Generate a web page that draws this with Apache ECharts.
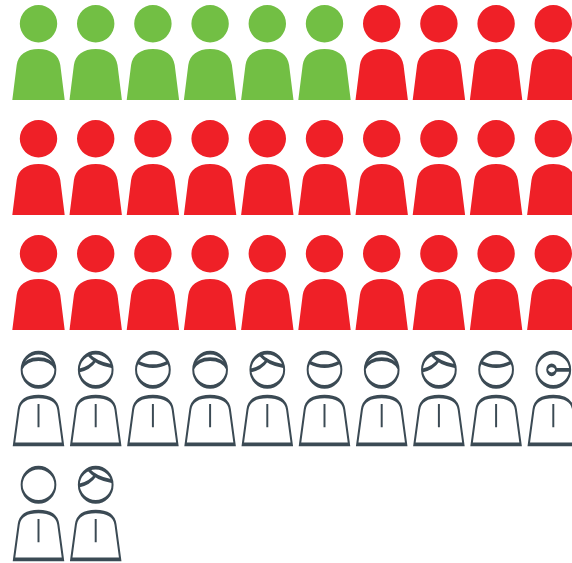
<!DOCTYPE html>
<html>
<head>
<meta charset="utf-8">
<title>people</title>
<script src="https://cdn.jsdelivr.net/npm/echarts@6/dist/echarts.min.js"></script>
<style>
  html, body { margin: 0; padding: 0; background: #fff; overflow: hidden; }
  #chart { width: 572px; height: 563px; }
</style>
</head>
<body>
<div id="chart"></div>
<script>
// one row of people per entry, left to right
const columns = ['1', '2', '3', '4', '5', '6', '7', '8', '9', '10']
const rows = ['1', '2', '3', '4', '5']
const row1 = ['green', 'green', 'green', 'green', 'green', 'green', 'red', 'red', 'red', 'red']
const row2 = ['red', 'red', 'red', 'red', 'red', 'red', 'red', 'red', 'red', 'red']
const row3 = ['red', 'red', 'red', 'red', 'red', 'red', 'red', 'red', 'red', 'red']
const row4 = ['cap', 'swoop', 'fringe', 'cap', 'swoop', 'fringe', 'cap', 'swoop', 'fringe', 'ring']
const row5 = ['plain', 'swoop']
const people = [row1, row2, row3, row4, row5]

const GREEN = '#72bf44'
const RED = '#ef2027'
const SLATE = '#3b4a54'

// filled person
const solidPath = 'path://M26.2 0A18.7 18.7 0 1 1 26.2 37.4A18.7 18.7 0 1 1 26.2 0Z' +
  'M0 95L4.4 60C5.7 50 14 44 26.2 44C38.4 44 46.7 50 48 60L52.4 95Z'

// outlined person, hair is drawn on top of it
const outline = 'M25 0A17.2 17.2 0 1 1 25 34.4A17.2 17.2 0 1 1 25 0Z' +
  'M0 92L4.8 57C6.1 48 14 44 25 44C36 44 43.9 48 45.2 57L50 92Z' +
  'M25 51.5L25 75'
const hair = {
  plain: '',
  cap: 'M8 15.5C10.5 10 17 6.5 25 6.5C33 6.5 39.5 10 42 15.5',
  swoop: 'M17.7 1.9Q25 10.5 41.3 13.5M7.8 18Q19 16 25.3 6.9',
  fringe: 'M9.6 9.5Q25 17.5 40.4 9.5',
  ring: 'M27.8 17.2A4.5 4.5 0 1 1 18.8 17.2A4.5 4.5 0 1 1 27.8 17.2ZM27.8 17.2L42.2 17.2'
}

function pick (test) {
  const out = []
  people.forEach((row, r) => {
    row.forEach((kind, c) => {
      if (test(kind)) out.push({ value: [columns[c], rows[r]], kind: kind })
    })
  })
  return out
}

const solidSeries = (name, color) => ({
  name: name,
  type: 'scatter',
  clip: false,
  silent: true,
  symbol: solidPath,
  symbolSize: [52.4, 95],
  itemStyle: { color: color, opacity: 1 },
  data: pick(k => k === name)
})

const myChart = echarts.init(document.getElementById('chart'), null, { renderer: 'canvas' })
myChart.setOption({
  backgroundColor: '#ffffff',
  animation: false,
  tooltip: { show: false },
  grid: { left: 9.9, top: -5, width: 572, height: 575, outerBoundsMode: 'none' },
  xAxis: { type: 'category', data: columns, show: false },
  yAxis: { type: 'category', data: rows, inverse: true, show: false },
  series: [
    solidSeries('green', GREEN),
    solidSeries('red', RED),
    {
      name: 'outline',
      type: 'scatter',
      clip: false,
      silent: true,
      symbolSize: [49, 91.6],
      symbolOffset: [0, 1],
      itemStyle: { color: 'none', borderColor: SLATE, borderWidth: 2.7, opacity: 1 },
      data: pick(k => k in hair).map(d => Object.assign(d, {
        symbol: 'path://' + outline + hair[d.kind]
      }))
    }
  ]
})
</script>
</body>
</html>
